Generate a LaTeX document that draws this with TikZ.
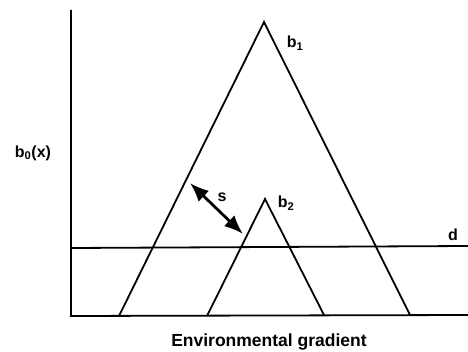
\documentclass[tikz,border=0pt]{standalone}
\usepackage{fontspec}
\setmainfont{Liberation Sans}
\usetikzlibrary{arrows.meta}
\begin{document}
\begin{tikzpicture}[x=1pt,y=-1pt,
  ln/.style={line width=1.8pt,line join=miter},
  lbl/.style={font=\bfseries\fontsize{16}{18}\selectfont,inner sep=0pt},
  dbl/.style={line width=2.8pt,{Latex[length=19pt,width=15pt]}-{Latex[length=19pt,width=15pt]}}]
\useasboundingbox (0,0) rectangle (468,352);
% axes
\coordinate (top) at (71,10);
\coordinate (orig) at (71,316);
\coordinate (xend) at (468,315);
\draw[ln] (top) -- (orig) -- (xend);
% threshold line d
\coordinate (dl) at (71,248);
\coordinate (dr) at (468,246);
\draw[ln] (dl) -- (dr);
% big triangle b1
\coordinate (b1l) at (119,316);
\coordinate (b1t) at (264,22);
\coordinate (b1r) at (410,315);
\draw[ln] (b1l) -- (b1t) -- (b1r);
% small triangle b2
\coordinate (b2l) at (207,316);
\coordinate (b2t) at (265,199);
\coordinate (b2r) at (324,315);
\draw[ln] (b2l) -- (b2t) -- (b2r);
% arrow s
\coordinate (sa) at (190,183);
\coordinate (sb) at (243,234);
\draw[dbl] (sa) -- (sb);
% labels
\node[lbl] (lb1) at (295,43) {b\textsubscript{1}};
\node[lbl] (lb2) at (286,203) {b\textsubscript{2}};
\node[lbl] (ls) at (222,197) {s};
\node[lbl] (ld) at (453,235) {d};
\node[lbl] (ly) at (33,153) {b\textsubscript{0}(x)};
\node[lbl,font=\bfseries\fontsize{17.5}{20}\selectfont] (lx) at (269,342) {Environmental gradient};
\end{tikzpicture}
\end{document}
